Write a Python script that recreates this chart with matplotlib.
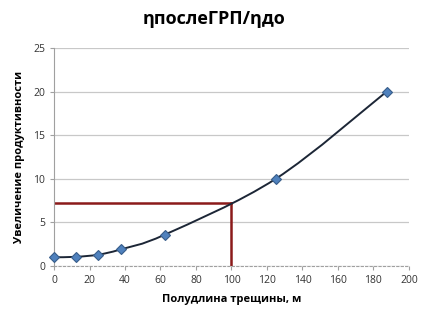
import matplotlib.pyplot as plt
from matplotlib.path import Path
from matplotlib.patches import PathPatch

half_length = [0, 12.5, 25, 37.5, 62.5, 125, 187.5]
gain = [1.0, 1.05, 1.3, 1.9, 3.6, 10.0, 20.0]
ref_x = 100
ref_y = 7.2
x_ticks = [0, 20, 40, 60, 80, 100, 120, 140, 160, 180, 200]
y_ticks = [0, 5, 10, 15, 20, 25]

plt.rcParams['font.family'] = ['Open Sans', 'DejaVu Sans']

fig = plt.figure(figsize=(4.29, 3.22), dpi=100)
ax = fig.add_axes([0.126, 0.174, 0.827, 0.677])

# smoothed line like excel (catmull-rom -> bezier)
verts = [(half_length[0], gain[0])]
codes = [Path.MOVETO]
n = len(half_length)
for i in range(n - 1):
    p0 = (half_length[max(i - 1, 0)], gain[max(i - 1, 0)])
    p1 = (half_length[i], gain[i])
    p2 = (half_length[i + 1], gain[i + 1])
    p3 = (half_length[min(i + 2, n - 1)], gain[min(i + 2, n - 1)])
    c1 = (p1[0] + (p2[0] - p0[0]) / 6, p1[1] + (p2[1] - p0[1]) / 6)
    c2 = (p2[0] - (p3[0] - p1[0]) / 6, p2[1] - (p3[1] - p1[1]) / 6)
    verts += [c1, c2, p2]
    codes += [Path.CURVE4] * 3
ax.add_patch(PathPatch(Path(verts, codes), fill=False, edgecolor='#1c2636', lw=1.4, zorder=3))

ax.plot(half_length, gain, ls='none', marker='D', ms=5.5, clip_on=False,
        mfc='#4f81bd', mec='#385d8a', mew=0.8, zorder=4)

ax.plot([0, ref_x], [ref_y, ref_y], color='#8b1a1a', lw=1.8, zorder=2)
ax.plot([ref_x, ref_x], [0, ref_y], color='#8b1a1a', lw=1.8, zorder=2)

ax.set_xlim(0, 200)
ax.set_ylim(0, 25)
ax.set_xticks(x_ticks)
ax.set_yticks(y_ticks)
ax.grid(axis='y', color='#c8c8c8', lw=0.9)
ax.set_axisbelow(True)
for s in ['top', 'right']:
    ax.spines[s].set_visible(False)
ax.spines['left'].set_color('#a0a0a0')
ax.spines['bottom'].set_color('#a0a0a0')
ax.spines['bottom'].set_linestyle((0, (2, 2)))
ax.tick_params(axis='x', length=3, color='#a0a0a0', labelsize=7.5, labelcolor='#333333')
ax.tick_params(axis='y', length=3, color='#a0a0a0', labelsize=7.5, labelcolor='#333333')

fig.suptitle('ηпослеГРП/ηдо', x=0.5, y=0.97, fontsize=13, fontweight='bold')
ax.set_xlabel('Полудлина трещины, м', fontsize=8, fontweight='bold', labelpad=6)
ax.set_ylabel('Увеличение продуктивности', fontsize=8, fontweight='bold', labelpad=6)

fig.savefig('out.png', dpi=100)
